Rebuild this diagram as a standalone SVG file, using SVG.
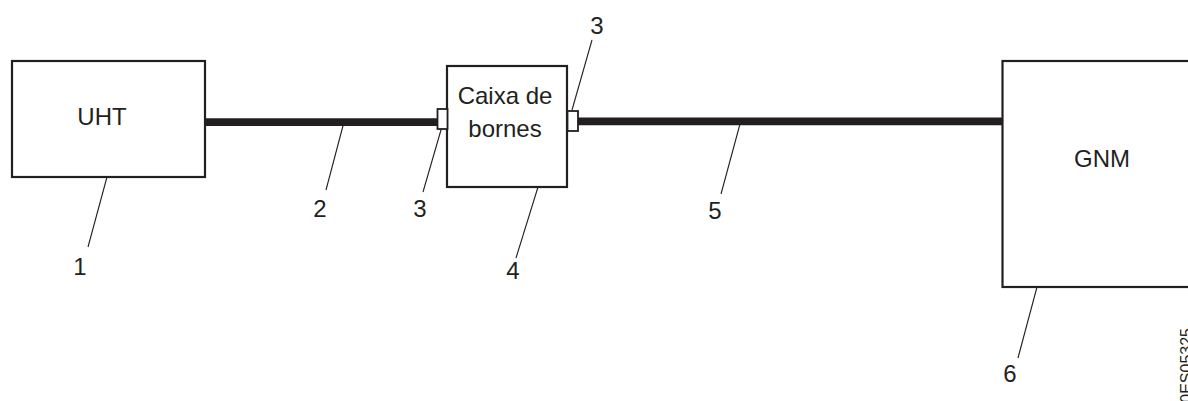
<svg xmlns="http://www.w3.org/2000/svg" width="1188" height="401" viewBox="0 0 1188 401">
<style>
.box{fill:#fff;stroke:#231f20;stroke-width:2.2}
.term{fill:#fff;stroke:#231f20;stroke-width:1.8}
.cable{stroke:#231f20;stroke-width:7.8;fill:none}
.lead{stroke:#231f20;stroke-width:1.1;fill:none}
text{font-family:"Liberation Sans",Arial,sans-serif;fill:#231f20}
.lbl{font-size:24px;text-anchor:middle}
.num{font-size:24px;text-anchor:middle}
</style>
<rect width="1188" height="401" fill="#fff"/>
<g id="connectors">
<line class="cable" x1="205" y1="122.2" x2="438" y2="122.2"/>
<line class="cable" x1="578" y1="121.3" x2="1003" y2="121.3"/>
<line class="lead" x1="107" y1="177" x2="88" y2="247"/>
<line class="lead" x1="344" y1="122" x2="326" y2="190"/>
<line class="lead" x1="443" y1="123" x2="423" y2="192"/>
<line class="lead" x1="592" y1="40" x2="572" y2="110"/>
<line class="lead" x1="538" y1="187" x2="516" y2="258"/>
<line class="lead" x1="740" y1="124" x2="721" y2="194"/>
<line class="lead" x1="1037" y1="287" x2="1018" y2="358"/>
</g>
<g id="uht">
<rect class="box" x="12" y="61" width="193" height="116"/>
<text class="lbl" x="102" y="125">UHT</text>
</g>
<g id="caixa">
<rect class="box" x="447" y="66" width="120" height="121"/>
<text class="lbl" x="505" y="104">Caixa de</text>
<text class="lbl" x="505" y="137">bornes</text>
</g>
<g id="term-left">
<rect class="term" x="437.5" y="109" width="10" height="20"/>
</g>
<g id="term-right">
<rect class="term" x="567.5" y="111" width="10.5" height="20"/>
</g>
<g id="gnm">
<rect class="box" x="1002.5" y="61" width="200" height="226"/>
<text class="lbl" x="1102" y="167">GNM</text>
</g>
<g id="labels">
<text class="num" x="80" y="275">1</text>
<text class="num" x="320" y="217">2</text>
<text class="num" x="420" y="217">3</text>
<text class="num" x="597" y="34">3</text>
<text class="num" x="513" y="279">4</text>
<text class="num" x="715" y="219">5</text>
<text class="num" x="1010" y="382">6</text>
<text font-size="16" text-anchor="end" transform="translate(1191.5,328) rotate(-90)">0ES05325</text>
</g>
</svg>
